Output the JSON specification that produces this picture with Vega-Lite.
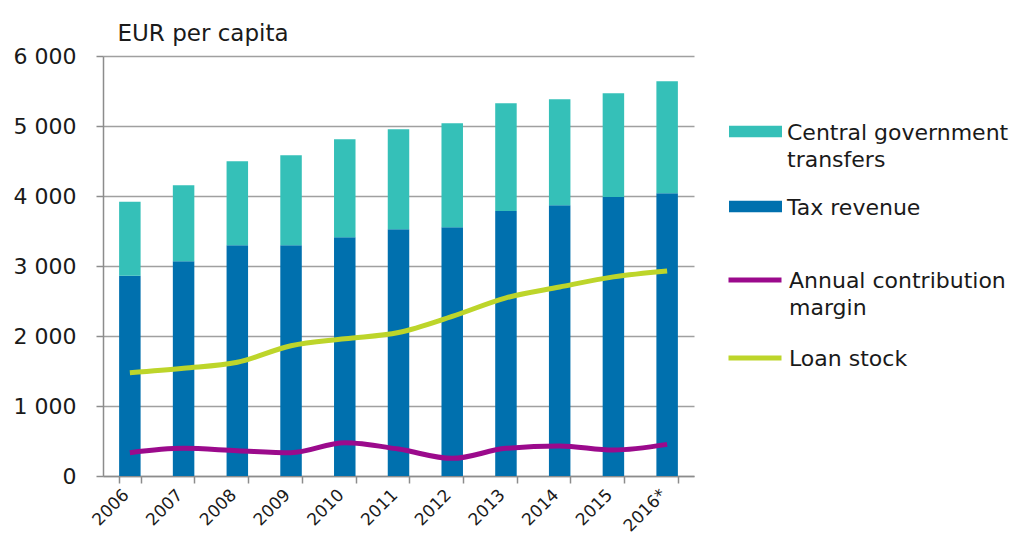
{
  "$schema": "https://vega.github.io/schema/vega-lite/v6.json",
  "autosize": "none",
  "width": 591,
  "height": 420,
  "padding": {"left": 103, "top": 56, "right": 329, "bottom": 61},
  "background": "white",
  "config": {
    "view": {"stroke": null},
    "font": "DejaVu Sans",
    "axis": {"labelFont": "DejaVu Sans", "titleFont": "DejaVu Sans", "labelColor": "#1a1a1a", "titleColor": "#1a1a1a"},
    "legend": {"labelFont": "DejaVu Sans", "labelColor": "#1a1a1a"}
  },
  "data": {
    "values": [
      {"year": "2006", "series": "Tax revenue", "value": 2862},
      {"year": "2007", "series": "Tax revenue", "value": 3067},
      {"year": "2008", "series": "Tax revenue", "value": 3295},
      {"year": "2009", "series": "Tax revenue", "value": 3295},
      {"year": "2010", "series": "Tax revenue", "value": 3410},
      {"year": "2011", "series": "Tax revenue", "value": 3524},
      {"year": "2012", "series": "Tax revenue", "value": 3552},
      {"year": "2013", "series": "Tax revenue", "value": 3786},
      {"year": "2014", "series": "Tax revenue", "value": 3867},
      {"year": "2015", "series": "Tax revenue", "value": 3986},
      {"year": "2016*", "series": "Tax revenue", "value": 4038},
      {"year": "2006", "series": "Central government transfers", "value": 1057},
      {"year": "2007", "series": "Central government transfers", "value": 1085},
      {"year": "2008", "series": "Central government transfers", "value": 1200},
      {"year": "2009", "series": "Central government transfers", "value": 1286},
      {"year": "2010", "series": "Central government transfers", "value": 1400},
      {"year": "2011", "series": "Central government transfers", "value": 1428},
      {"year": "2012", "series": "Central government transfers", "value": 1486},
      {"year": "2013", "series": "Central government transfers", "value": 1538},
      {"year": "2014", "series": "Central government transfers", "value": 1514},
      {"year": "2015", "series": "Central government transfers", "value": 1481},
      {"year": "2016*", "series": "Central government transfers", "value": 1600},
      {"year": "2006", "series": "Annual contribution margin", "value": 333},
      {"year": "2007", "series": "Annual contribution margin", "value": 395},
      {"year": "2008", "series": "Annual contribution margin", "value": 362},
      {"year": "2009", "series": "Annual contribution margin", "value": 333},
      {"year": "2010", "series": "Annual contribution margin", "value": 476},
      {"year": "2011", "series": "Annual contribution margin", "value": 385},
      {"year": "2012", "series": "Annual contribution margin", "value": 252},
      {"year": "2013", "series": "Annual contribution margin", "value": 395},
      {"year": "2014", "series": "Annual contribution margin", "value": 429},
      {"year": "2015", "series": "Annual contribution margin", "value": 371},
      {"year": "2016*", "series": "Annual contribution margin", "value": 452},
      {"year": "2006", "series": "Loan stock", "value": 1476},
      {"year": "2007", "series": "Loan stock", "value": 1540},
      {"year": "2008", "series": "Loan stock", "value": 1625},
      {"year": "2009", "series": "Loan stock", "value": 1860},
      {"year": "2010", "series": "Loan stock", "value": 1960},
      {"year": "2011", "series": "Loan stock", "value": 2050},
      {"year": "2012", "series": "Loan stock", "value": 2280},
      {"year": "2013", "series": "Loan stock", "value": 2545},
      {"year": "2014", "series": "Loan stock", "value": 2700},
      {"year": "2015", "series": "Loan stock", "value": 2845},
      {"year": "2016*", "series": "Loan stock", "value": 2930}
    ]
  },
  "encoding": {
    "x": {
      "field": "year", "type": "nominal",
      "scale": {"paddingInner": 0.6, "paddingOuter": 0.3},
      "axis": {
        "title": null, "labelAngle": -45, "labelAlign": "right", "labelBaseline": "middle",
        "labelFontSize": 17, "labelPadding": 9, "labelOffset": -4,
        "domainColor": "#8c8c8c", "domainWidth": 1.5,
        "tickColor": "#8c8c8c", "tickWidth": 1.5, "tickSize": 7, "tickBand": "extent"
      }
    }
  },
  "layer": [
    {
      "transform": [{"filter": "datum.series == 'Tax revenue' || datum.series == 'Central government transfers'"}],
      "mark": {"type": "bar"},
      "encoding": {
        "y": {
          "field": "value", "type": "quantitative", "stack": "zero",
          "scale": {"domain": [0, 6000], "nice": false},
          "axis": {
            "values": [0, 1000, 2000, 3000, 4000, 5000, 6000],
            "labelExpr": "replace(format(datum.value, ','), ',', ' ')",
            "labelFontSize": 22, "labelPadding": 20,
            "grid": true, "gridColor": "#a0a0a0", "gridWidth": 1.5,
            "domainColor": "#8c8c8c", "domainWidth": 1.5,
            "tickColor": "#8c8c8c", "tickWidth": 1.5, "tickSize": 7,
            "title": "EUR per capita", "titleAngle": 0, "titleAlign": "left",
            "titleBaseline": "alphabetic", "titleX": 14, "titleY": -16,
            "titleFontSize": 23, "titleFontWeight": "normal"
          }
        },
        "fill": {
          "field": "series", "type": "nominal",
          "scale": {"domain": ["Central government transfers", "Tax revenue"], "range": ["#35c0b8", "#0070ae"]},
          "legend": {
            "title": null, "orient": "none", "legendX": 626, "legendY": 49,
            "symbolType": "M-1,-0.22H1V0.22H-1Z", "symbolSize": 2809, "symbolStrokeWidth": 0,
            "labelFontSize": 22, "labelOffset": 5, "labelLimit": 300, "rowPadding": 9,
            "labelBaseline": "top",
            "labelExpr": "datum.label == 'Central government transfers' ? ['Central government', 'transfers'] : datum.label",
            "encode": {"labels": {"update": {"lineHeight": {"value": 27}, "dy": {"value": -9}}}}
          }
        },
        "order": {"field": "series", "sort": "descending"}
      }
    },
    {
      "transform": [{"filter": "datum.series == 'Annual contribution margin' || datum.series == 'Loan stock'"}],
      "mark": {"type": "line", "strokeWidth": 5, "interpolate": "monotone"},
      "encoding": {
        "y": {"field": "value", "type": "quantitative"},
        "stroke": {
          "field": "series", "type": "nominal",
          "scale": {"domain": ["Annual contribution margin", "Loan stock"], "range": ["#9b0a8c", "#bdd52a"]},
          "legend": {
            "title": null, "orient": "none", "legendX": 623, "legendY": 195,
            "symbolType": "stroke", "symbolSize": 2809, "symbolStrokeWidth": 5,
            "labelFontSize": 22, "labelOffset": 5, "labelLimit": 300, "rowPadding": 10,
            "labelBaseline": "top",
            "labelExpr": "datum.label == 'Annual contribution margin' ? ['Annual contribution', 'margin'] : datum.label",
            "encode": {"labels": {"update": {"lineHeight": {"value": 27}, "dy": {"value": -9}}}}
          }
        }
      }
    }
  ]
}
